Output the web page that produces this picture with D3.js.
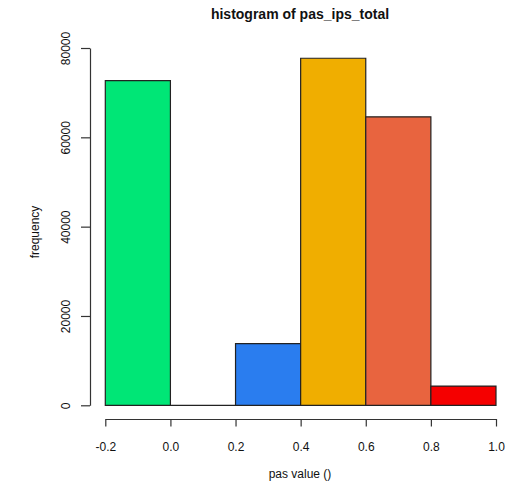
<!DOCTYPE html>
<html><head><meta charset="utf-8">
<script src="https://cdn.jsdelivr.net/npm/d3@7"></script>
<style>body{margin:0;background:#fff;} svg{display:block;font-family:"Liberation Sans",Arial,sans-serif;}</style>
</head><body><svg id="c" width="523" height="483"></svg>
<script>
const binStarts = [-0.2, 0.0, 0.2, 0.4, 0.6, 0.8];
const binEnds = [0.0, 0.2, 0.4, 0.6, 0.8, 1.0];
const counts = [72700, 0, 13800, 77700, 64600, 4300];
const colors = ["#00E676", "#FFFFFF", "#2A7DEF", "#F0AE00", "#E8643F", "#F50000"];
const xTicks = [-0.2, 0.0, 0.2, 0.4, 0.6, 0.8, 1.0];
const yTicks = [0, 20000, 40000, 60000, 80000];

const svg = d3.select("#c");
const x = d3.scaleLinear().domain([-0.2, 1.0]).range([105.3, 496]);
const y = d3.scaleLinear().domain([0, 80000]).range([405.3, 48]);

svg.selectAll("path.bar").data(counts).enter().append("path")
  .attr("class","bar")
  .attr("d", (d,i)=>{
    const x0 = x(binStarts[i]), x1 = x(binEnds[i]), y0 = y(0), y1 = y(d);
    return `M${x0},${y0}L${x0},${y1}L${x1},${y1}L${x1},${y0}Z`;
  })
  .attr("fill", (d,i)=>colors[i])
  .attr("stroke", "#222").attr("stroke-width", 1.2);

const xAxis = d3.axisBottom(x).tickValues(xTicks).tickFormat(d=>d.toFixed(1)).tickSize(7.5).tickSizeOuter(0);
const gx = svg.append("g").attr("transform","translate(0,419)").call(xAxis);
gx.select(".domain").attr("stroke","#333").attr("stroke-width",1.2);
gx.selectAll(".tick line").attr("stroke","#333").attr("stroke-width",1.2);
gx.selectAll(".tick text").attr("font-size",12).attr("fill","#111").attr("dy",null).attr("y",29).attr("dominant-baseline","middle")
  .attr("font-family","Liberation Sans, Arial, sans-serif");

const yAxis = d3.axisLeft(y).tickValues(yTicks).tickFormat(d=>String(d)).tickSize(9).tickSizeOuter(0);
const gy = svg.append("g").attr("transform","translate(90,0)").call(yAxis);
gy.select(".domain").attr("stroke","#333").attr("stroke-width",1.2);
gy.selectAll(".tick line").attr("stroke","#333").attr("stroke-width",1.2);
gy.selectAll(".tick text").attr("font-size",12).attr("fill","#111")
  .attr("x",null).attr("dy",null)
  .attr("transform","translate(-23,0) rotate(-90)")
  .attr("text-anchor","middle").attr("dominant-baseline","middle")
  .attr("font-family","Liberation Sans, Arial, sans-serif");

svg.append("text").attr("x",300).attr("y",15).attr("text-anchor","middle").attr("dominant-baseline","middle")
  .attr("font-size",14).attr("font-weight","bold").attr("fill","#111").text("histogram of pas_ips_total");
svg.append("text").attr("x",300).attr("y",475).attr("text-anchor","middle").attr("dominant-baseline","middle")
  .attr("font-size",12).attr("fill","#111").text("pas value ()");
svg.append("text").attr("transform","translate(36,232) rotate(-90)").attr("text-anchor","middle").attr("dominant-baseline","middle")
  .attr("font-size",12).attr("fill","#111").text("frequency");
</script></body></html>
